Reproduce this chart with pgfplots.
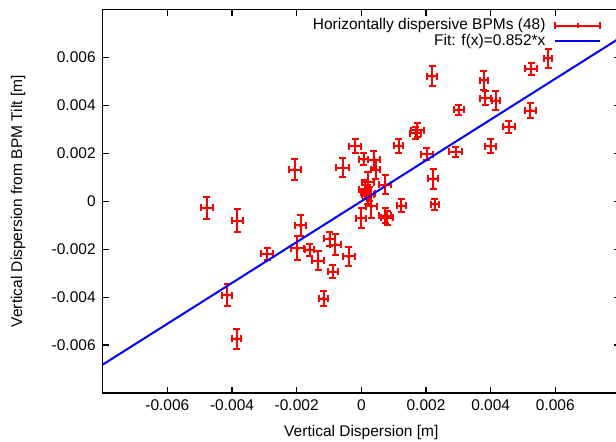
\documentclass[border=0pt]{standalone}
\usepackage{fontspec}
\setmainfont{Liberation Sans}
\usepackage{pgfplots}
\usepackage{pgfplotstable}
\pgfplotsset{compat=1.18}
\pgfplotstableread{
x y ex ey
-0.00478 -0.00027 0.00018 0.00045
-0.00384 -0.00082 0.00017 0.00048
-0.00206 0.00132 0.00018 0.00044
-0.00188 -0.00101 0.00018 0.00045
-0.00291 -0.00220 0.00018 0.00027
-0.00198 -0.00197 0.00020 0.00050
-0.00160 -0.00203 0.00015 0.00025
-0.00134 -0.00248 0.00018 0.00040
-0.00098 -0.00157 0.00018 0.00030
-0.00080 -0.00181 0.00018 0.00045
-0.00088 -0.00294 0.00015 0.00028
-0.00039 -0.00230 0.00018 0.00040
-0.00117 -0.00406 0.00015 0.00030
-0.00415 -0.00392 0.00015 0.00045
-0.00386 -0.00574 0.00015 0.00042
-0.00019 0.00230 0.00018 0.00030
0.00007 0.00175 0.00015 0.00025
0.00039 0.00174 0.00018 0.00035
-0.00057 0.00140 0.00020 0.00040
0.00044 0.00132 0.00015 0.00040
0.00020 0.00080 0.00018 0.00040
0.00115 0.00231 0.00015 0.00030
0.00173 0.00297 0.00020 0.00030
0.00168 0.00283 0.00018 0.00025
0.00219 0.00522 0.00015 0.00042
0.00203 0.00196 0.00018 0.00025
0.00074 0.00069 0.00018 0.00040
0.00222 0.00093 0.00015 0.00040
0.00012 0.00050 0.00018 0.00040
0.00020 0.00028 0.00018 0.00040
0.00015 0.00038 0.00015 0.00030
0.00024 0.00031 0.00018 0.00030
0.00031 -0.00020 0.00018 0.00050
0.00000 -0.00070 0.00015 0.00040
0.00124 -0.00018 0.00015 0.00028
0.00227 -0.00013 0.00012 0.00022
0.00074 -0.00060 0.00018 0.00030
0.00080 -0.00069 0.00018 0.00030
0.00578 0.00597 0.00012 0.00040
0.00525 0.00553 0.00018 0.00025
0.00379 0.00504 0.00012 0.00040
0.00384 0.00430 0.00018 0.00030
0.00416 0.00420 0.00012 0.00040
0.00301 0.00381 0.00015 0.00022
0.00523 0.00378 0.00018 0.00030
0.00456 0.00311 0.00018 0.00025
0.00400 0.00230 0.00018 0.00030
0.00292 0.00206 0.00020 0.00022
}\bpmdata

\begin{document}
\begin{tikzpicture}[font=\fontsize{7.75}{9}\selectfont]
\begin{axis}[
  at={(0,0)}, anchor=south west,
  scale only axis, width=258.65pt, height=191.75pt,
  xmin=-0.008, xmax=0.008, ymin=-0.008, ymax=0.008,
  xtick={-0.006,-0.004,-0.002,0,0.002,0.004,0.006},
  ytick={-0.006,-0.004,-0.002,0,0.002,0.004,0.006},
  scaled ticks=false,
  tick label style={font=\fontsize{7.75}{9}\selectfont},
  /pgf/number format/fixed, /pgf/number format/precision=3,
  /pgf/number format/assume math mode=true,
  tick align=inside, tick pos=both, major tick length=3pt,
  axis line style={line width=0.8pt},
  every tick/.style={black, line width=0.6pt},
  every axis x label/.style={at={(axis description cs:0.5,-0.1017)}, anchor=center},
  every axis y label/.style={at={(axis description cs:-0.1637,0.5)}, rotate=90, anchor=center},
  xlabel={Vertical Dispersion [m]},
  ylabel={Vertical Dispersion from BPM Tilt [m]},
  legend cell align=right, legend plot pos=right,
  legend style={at={(axis cs:0.00744,0.00766)}, anchor=north east, draw=none, fill=none,
    inner sep=0pt, row sep=0.3pt, column sep=4pt, font=\fontsize{7.75}{9}\selectfont,
    nodes={inner sep=0.5pt, text height=5.3pt, text depth=1.2pt}},
]
\addplot[only marks, draw=red, fill=red, color=red, mark=*, mark size=0.9pt,
  legend image code/.code={
    \draw[draw=red, line width=1pt] (0pt,0pt) -- (22.5pt,0pt);
    \draw[draw=red, line width=1pt] (0pt,-1.75pt) -- (0pt,1.75pt);
    \draw[draw=red, line width=1pt] (22.5pt,-1.75pt) -- (22.5pt,1.75pt);
    \draw[draw=red, line width=1pt] (11.25pt,-1.3pt) -- (11.25pt,1.3pt);},
  error bars/.cd, x dir=both, x explicit, y dir=both, y explicit,
  error bar style={line width=1pt, draw=red},
  error mark options={rotate=90, draw=red, line width=1pt, mark size=1.75pt}]
  table[x=x, y=y, x error=ex, y error=ey]{\bpmdata};
\addlegendentry{Horizontally dispersive BPMs (48)}
\addplot[blue, line width=1pt, legend image code/.code={\draw[blue, line width=1pt] (0pt,0pt) -- (22.5pt,0pt);}]
  coordinates {(-0.008,-0.006816) (0.008,0.006816)};
\addlegendentry{Fit: f(x)=0.852*x}
\end{axis}
\pgfresetboundingbox
\useasboundingbox (-51.35pt,-24pt) rectangle (256.65pt,196.5pt);
\end{tikzpicture}
\end{document}
